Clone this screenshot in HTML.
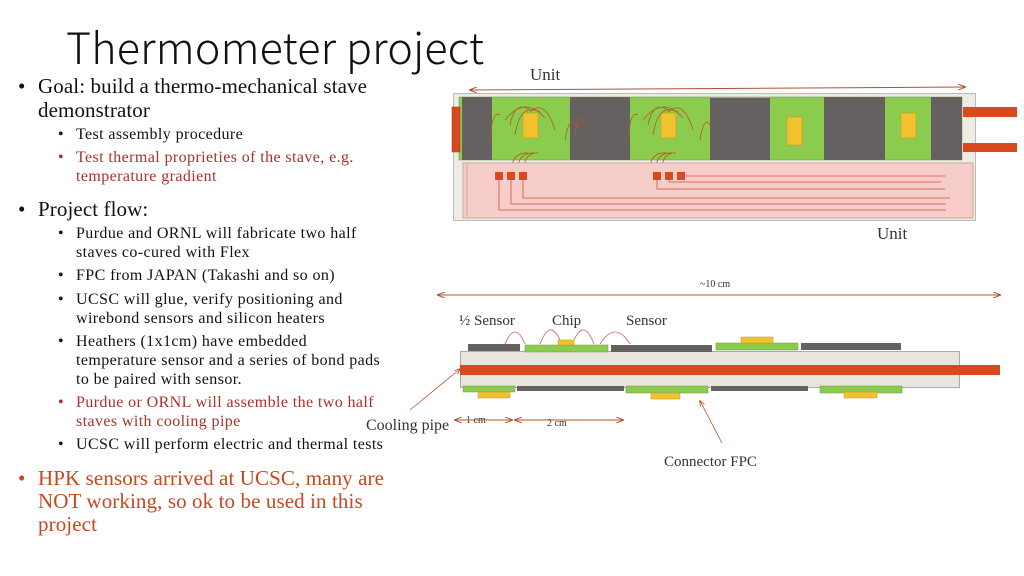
<!DOCTYPE html>
<html><head><meta charset="utf-8"><style>
body{margin:0;width:1024px;height:576px;background:#fff;position:relative;overflow:hidden;font-family:"Liberation Serif",serif;}
.t{position:absolute;white-space:nowrap;color:#111;}
.l1{font-size:21px;letter-spacing:0.1px;}
.l2{font-size:16px;letter-spacing:0.4px;}
.r{color:#a8322a;}
.o{color:#c9471f;}
h1{position:absolute;left:66px;top:15px;margin:0;font:300 43px "Noto Sans CJK JP","DejaVu Sans",sans-serif;color:#111;letter-spacing:0.2px;}
svg{position:absolute;left:0;top:0;}
</style></head><body>
<h1>Thermometer project</h1>
<div class="t l1" style="left:18px;top:74px">•</div><div class="t l1" style="left:38px;top:74px">Goal: build a thermo-mechanical stave</div>
<div class="t l1" style="left:38px;top:98px">demonstrator</div>
<div class="t l2" style="left:58px;top:126px">•</div><div class="t l2" style="left:76px;top:126px">Test assembly procedure</div>
<div class="t l2 r" style="left:58px;top:149px">•</div><div class="t l2 r" style="left:76px;top:149px">Test thermal proprieties of the stave, e.g.</div>
<div class="t l2 r" style="left:76px;top:168px">temperature gradient</div>
<div class="t l1" style="left:18px;top:197px">•</div><div class="t l1" style="left:38px;top:197px">Project flow:</div>
<div class="t l2" style="left:58px;top:225px">•</div><div class="t l2" style="left:76px;top:225px">Purdue and ORNL will fabricate two half</div>
<div class="t l2" style="left:76px;top:244px">staves co-cured with Flex</div>
<div class="t l2" style="left:58px;top:267px">•</div><div class="t l2" style="left:76px;top:267px">FPC from JAPAN (Takashi and so on)</div>
<div class="t l2" style="left:58px;top:291px">•</div><div class="t l2" style="left:76px;top:291px">UCSC will glue, verify positioning and</div>
<div class="t l2" style="left:76px;top:310px">wirebond sensors and silicon heaters</div>
<div class="t l2" style="left:58px;top:333px">•</div><div class="t l2" style="left:76px;top:333px">Heathers (1x1cm) have embedded</div>
<div class="t l2" style="left:76px;top:352px">temperature sensor and a series of bond pads</div>
<div class="t l2" style="left:76px;top:371px">to be paired with sensor.</div>
<div class="t l2 r" style="left:58px;top:394px">•</div><div class="t l2 r" style="left:76px;top:394px">Purdue or ORNL will assemble the two half</div>
<div class="t l2 r" style="left:76px;top:413px">staves with cooling pipe</div>
<div class="t l2" style="left:58px;top:436px">•</div><div class="t l2" style="left:76px;top:436px">UCSC will perform electric and thermal tests</div>
<div class="t l1 o" style="left:18px;top:466px">•</div><div class="t l1 o" style="left:38px;top:466px">HPK sensors arrived at UCSC, many are</div>
<div class="t l1 o" style="left:38px;top:489px">NOT working, so ok to be used in this</div>
<div class="t l1 o" style="left:38px;top:512px">project</div>

<svg width="1024" height="576" viewBox="0 0 1024 576">
<defs><marker id="a" markerWidth="8" markerHeight="6" refX="7" refY="3" orient="auto-start-reverse"><path d="M0,0 L8,3 L0,6" fill="none" stroke="#b5502e" stroke-width="1"/></marker></defs>
<g font-family="Liberation Serif,serif" fill="#333">
<text x="530" y="80" font-size="17">Unit</text>
<text x="877" y="239" font-size="17">Unit</text>
<text x="700" y="287" font-size="10">~10 cm</text>
<text x="459" y="325" font-size="15">½ Sensor</text>
<text x="552" y="325" font-size="15">Chip</text>
<text x="626" y="325" font-size="15">Sensor</text>
<text x="366" y="430" font-size="16">Cooling pipe</text>
<text x="466" y="423" font-size="10">1 cm</text>
<text x="547" y="426" font-size="10">2 cm</text>
<text x="664" y="466" font-size="15">Connector FPC</text>
</g>
<line x1="470" y1="90" x2="965" y2="87" stroke="#b5502e" stroke-width="1" marker-start="url(#a)" marker-end="url(#a)"/>
<rect x="453.5" y="93.5" width="522" height="127" fill="#eeebe4" stroke="#bbb"/>
<rect x="459" y="97" width="503" height="63" fill="#8bcb4d" stroke="#6a9a3a" stroke-width="0.5"/>
<rect x="462" y="97" width="30" height="63" fill="#666161"/>
<rect x="570" y="97" width="60" height="63" fill="#666161"/>
<rect x="710" y="98" width="60" height="62" fill="#666161"/>
<rect x="824" y="97" width="61" height="63" fill="#666161"/>
<rect x="931" y="97" width="31" height="63" fill="#666161"/>
<rect x="523" y="113" width="15" height="25" fill="#f2c12e" stroke="#c49a20" stroke-width="0.5"/>
<rect x="661" y="113" width="15" height="25" fill="#f2c12e" stroke="#c49a20" stroke-width="0.5"/>
<rect x="787" y="117" width="15" height="28" fill="#f2c12e" stroke="#c49a20" stroke-width="0.5"/>
<rect x="901" y="113" width="15" height="25" fill="#f2c12e" stroke="#c49a20" stroke-width="0.5"/>
<g fill="none" stroke="#b05a20" stroke-width="0.8">
<path d="M510,125 Q515,100 530,110 M515,135 Q520,102 540,112 M505,120 Q525,95 545,118 M530,112 Q545,98 555,130 M490,140 Q492,110 500,115 M565,140 Q570,110 580,130 M575,135 Q578,105 585,125"/>
<path d="M648,125 Q653,100 668,110 M653,135 Q658,102 678,112 M643,120 Q663,95 683,118 M668,112 Q683,98 693,130 M628,140 Q630,110 638,115 M700,140 Q705,110 712,130"/>
<path d="M512,165 Q515,152 528,153 M518,165 Q521,152 534,153 M524,165 Q527,152 538,153 M650,165 Q653,152 666,153 M656,165 Q659,152 672,153 M662,165 Q665,152 676,153"/>
</g>
<rect x="452" y="107" width="8" height="45" fill="#d84a1e" stroke="#a03010" stroke-width="0.5"/>
<rect x="963" y="107" width="54" height="10" fill="#d84a1e"/>
<rect x="963" y="143" width="54" height="9" fill="#d84a1e"/>
<rect x="463" y="163" width="510" height="55" fill="#f6cdc9" stroke="#c8a8a4"/>
<line x1="467" y1="164" x2="467" y2="217" stroke="#c8a8a4"/>
<g fill="#d84a1e"><rect x="495" y="172" width="8" height="8"/><rect x="507" y="172" width="8" height="8"/><rect x="519" y="172" width="8" height="8"/><rect x="653" y="172" width="8" height="8"/><rect x="665" y="172" width="8" height="8"/><rect x="677" y="172" width="8" height="8"/></g>
<g fill="none" stroke="#c8533a" stroke-width="0.8">
<path d="M681,180 V176 H945"/><path d="M669,180 V182 H941"/><path d="M657,180 V189 H945"/>
<path d="M523,180 V198 H950"/><path d="M511,180 V204 H946"/><path d="M499,180 V210 H946"/>
</g>
<line x1="438" y1="295" x2="1000" y2="295" stroke="#b5502e" stroke-width="1" marker-start="url(#a)" marker-end="url(#a)"/>
<g fill="none" stroke="#c76060" stroke-width="0.8">
<path d="M505,344 Q515,320 525,344"/><path d="M540,344 Q550,318 560,340"/><path d="M574,340 Q584,318 594,344"/><path d="M600,344 Q615,320 630,344"/>
</g>
<rect x="460.5" y="351.5" width="499" height="36" fill="#e8e5de" stroke="#aaa"/>
<rect x="460" y="365" width="540" height="10" fill="#d84a1e"/>
<g fill="#666161"><rect x="468" y="344" width="52" height="7"/><rect x="611" y="345" width="101" height="7"/><rect x="801" y="343" width="100" height="7"/><rect x="517" y="386" width="107" height="5"/><rect x="711" y="386" width="97" height="5"/></g>
<g fill="#8bcb4d" stroke="#6a9a3a" stroke-width="0.5"><rect x="525" y="345" width="83" height="7"/><rect x="716" y="343" width="82" height="7"/><rect x="463" y="386" width="52" height="6"/><rect x="626" y="386" width="82" height="7"/><rect x="820" y="386" width="82" height="7"/></g>
<g fill="#f2c12e" stroke="#c49a20" stroke-width="0.5"><rect x="558" y="340" width="16" height="5"/><rect x="741" y="337" width="32" height="6"/><rect x="478" y="392" width="32" height="6"/><rect x="651" y="393" width="29" height="6"/><rect x="844" y="392" width="33" height="6"/></g>
<line x1="455" y1="420" x2="512" y2="420" stroke="#b5502e" marker-start="url(#a)" marker-end="url(#a)"/>
<line x1="515" y1="420" x2="623" y2="420" stroke="#b5502e" marker-start="url(#a)" marker-end="url(#a)"/>
<line x1="410" y1="410" x2="460" y2="369" stroke="#b5502e" stroke-width="0.8" marker-end="url(#a)"/>
<line x1="722" y1="443" x2="700" y2="401" stroke="#b5502e" stroke-width="0.8" marker-end="url(#a)"/>
</svg>
</body></html>
